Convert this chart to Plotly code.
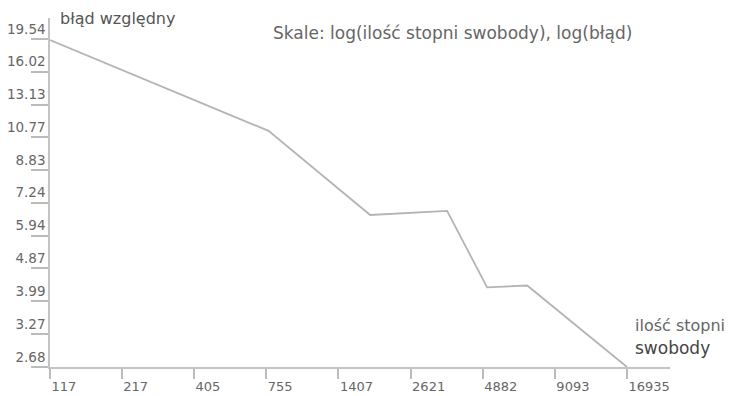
import math
import plotly.graph_objects as go

# data
dof = [117, 770, 1850, 3590, 5070, 7160, 16935]
err = [19.4, 11.2, 6.73, 6.9, 4.34, 4.39, 2.68]

x_ticks = [117, 217, 405, 755, 1407, 2621, 4882, 9093, 16935]
y_ticks = [2.68, 3.27, 3.99, 4.87, 5.94, 7.24, 8.83, 10.77, 13.13, 16.02, 19.54]
y_tick_text = ["2.68", "3.27", "3.99", "4.87", "5.94", "7.24", "8.83", "10.77", "13.13", "16.02", "19.54"]

title_y = "błąd względny"
title_note = "Skale: log(ilość stopni swobody), log(błąd)"
title_x1 = "ilość stopni"
title_x2 = "swobody"

FONT = "DejaVu Sans"

fig = go.Figure()
fig.add_trace(go.Scatter(
    x=dof, y=err, mode="lines",
    line=dict(color="#b4b4b4", width=1.8),
    hoverinfo="skip", showlegend=False,
))

fig.update_layout(
    width=733, height=396,
    margin=dict(l=42, r=71, t=10, b=37, autoexpand=False),
    paper_bgcolor="white", plot_bgcolor="white",
    font=dict(family=FONT, size=13, color="#666666"),
    xaxis=dict(
        type="log", automargin=False,
        range=[math.log10(117), math.log10(117) + 620 / 267.05],
        tickvals=x_ticks, ticktext=[str(v) for v in x_ticks],
        ticks="outside", ticklen=10, tickcolor="#bbbbbb", tickwidth=1.5,
        ticklabelposition="outside right", ticklabelstandoff=7,
        showline=True, linecolor="#c4c4c4", linewidth=1.5,
        showgrid=False, zeroline=False,
        tickfont=dict(family=FONT, size=13, color="#666666"),
    ),
    yaxis=dict(
        type="log", automargin=False,
        range=[math.log10(2.68), math.log10(2.68) + 349 / 380.2],
        tickvals=y_ticks, ticktext=y_tick_text,
        ticks="outside", ticklen=17, tickcolor="#bbbbbb", tickwidth=1.5,
        ticklabelposition="outside top",
        showline=True, linecolor="#c4c4c4", linewidth=1.5,
        showgrid=False, zeroline=False,
        tickfont=dict(family=FONT, size=13.5, color="#666666"),
    ),
    annotations=[
        dict(text=title_y, xref="paper", yref="paper", x=0.013, y=1.0,
             xanchor="left", yanchor="middle", showarrow=False,
             font=dict(family=FONT, size=16, color="#555555")),
        dict(text=title_note, xref="paper", yref="paper", x=0.356, y=0.957,
             xanchor="left", yanchor="middle", showarrow=False,
             font=dict(family=FONT, size=17, color="#666666")),
        dict(text=title_x1, xref="paper", yref="paper", x=0.94, y=0.12,
             xanchor="left", yanchor="middle", showarrow=False,
             font=dict(family=FONT, size=16, color="#666666")),
        dict(text=title_x2, xref="paper", yref="paper", x=0.94, y=0.054,
             xanchor="left", yanchor="middle", showarrow=False,
             font=dict(family=FONT, size=17, color="#444444")),
    ],
)

fig.write_html("out.html")
